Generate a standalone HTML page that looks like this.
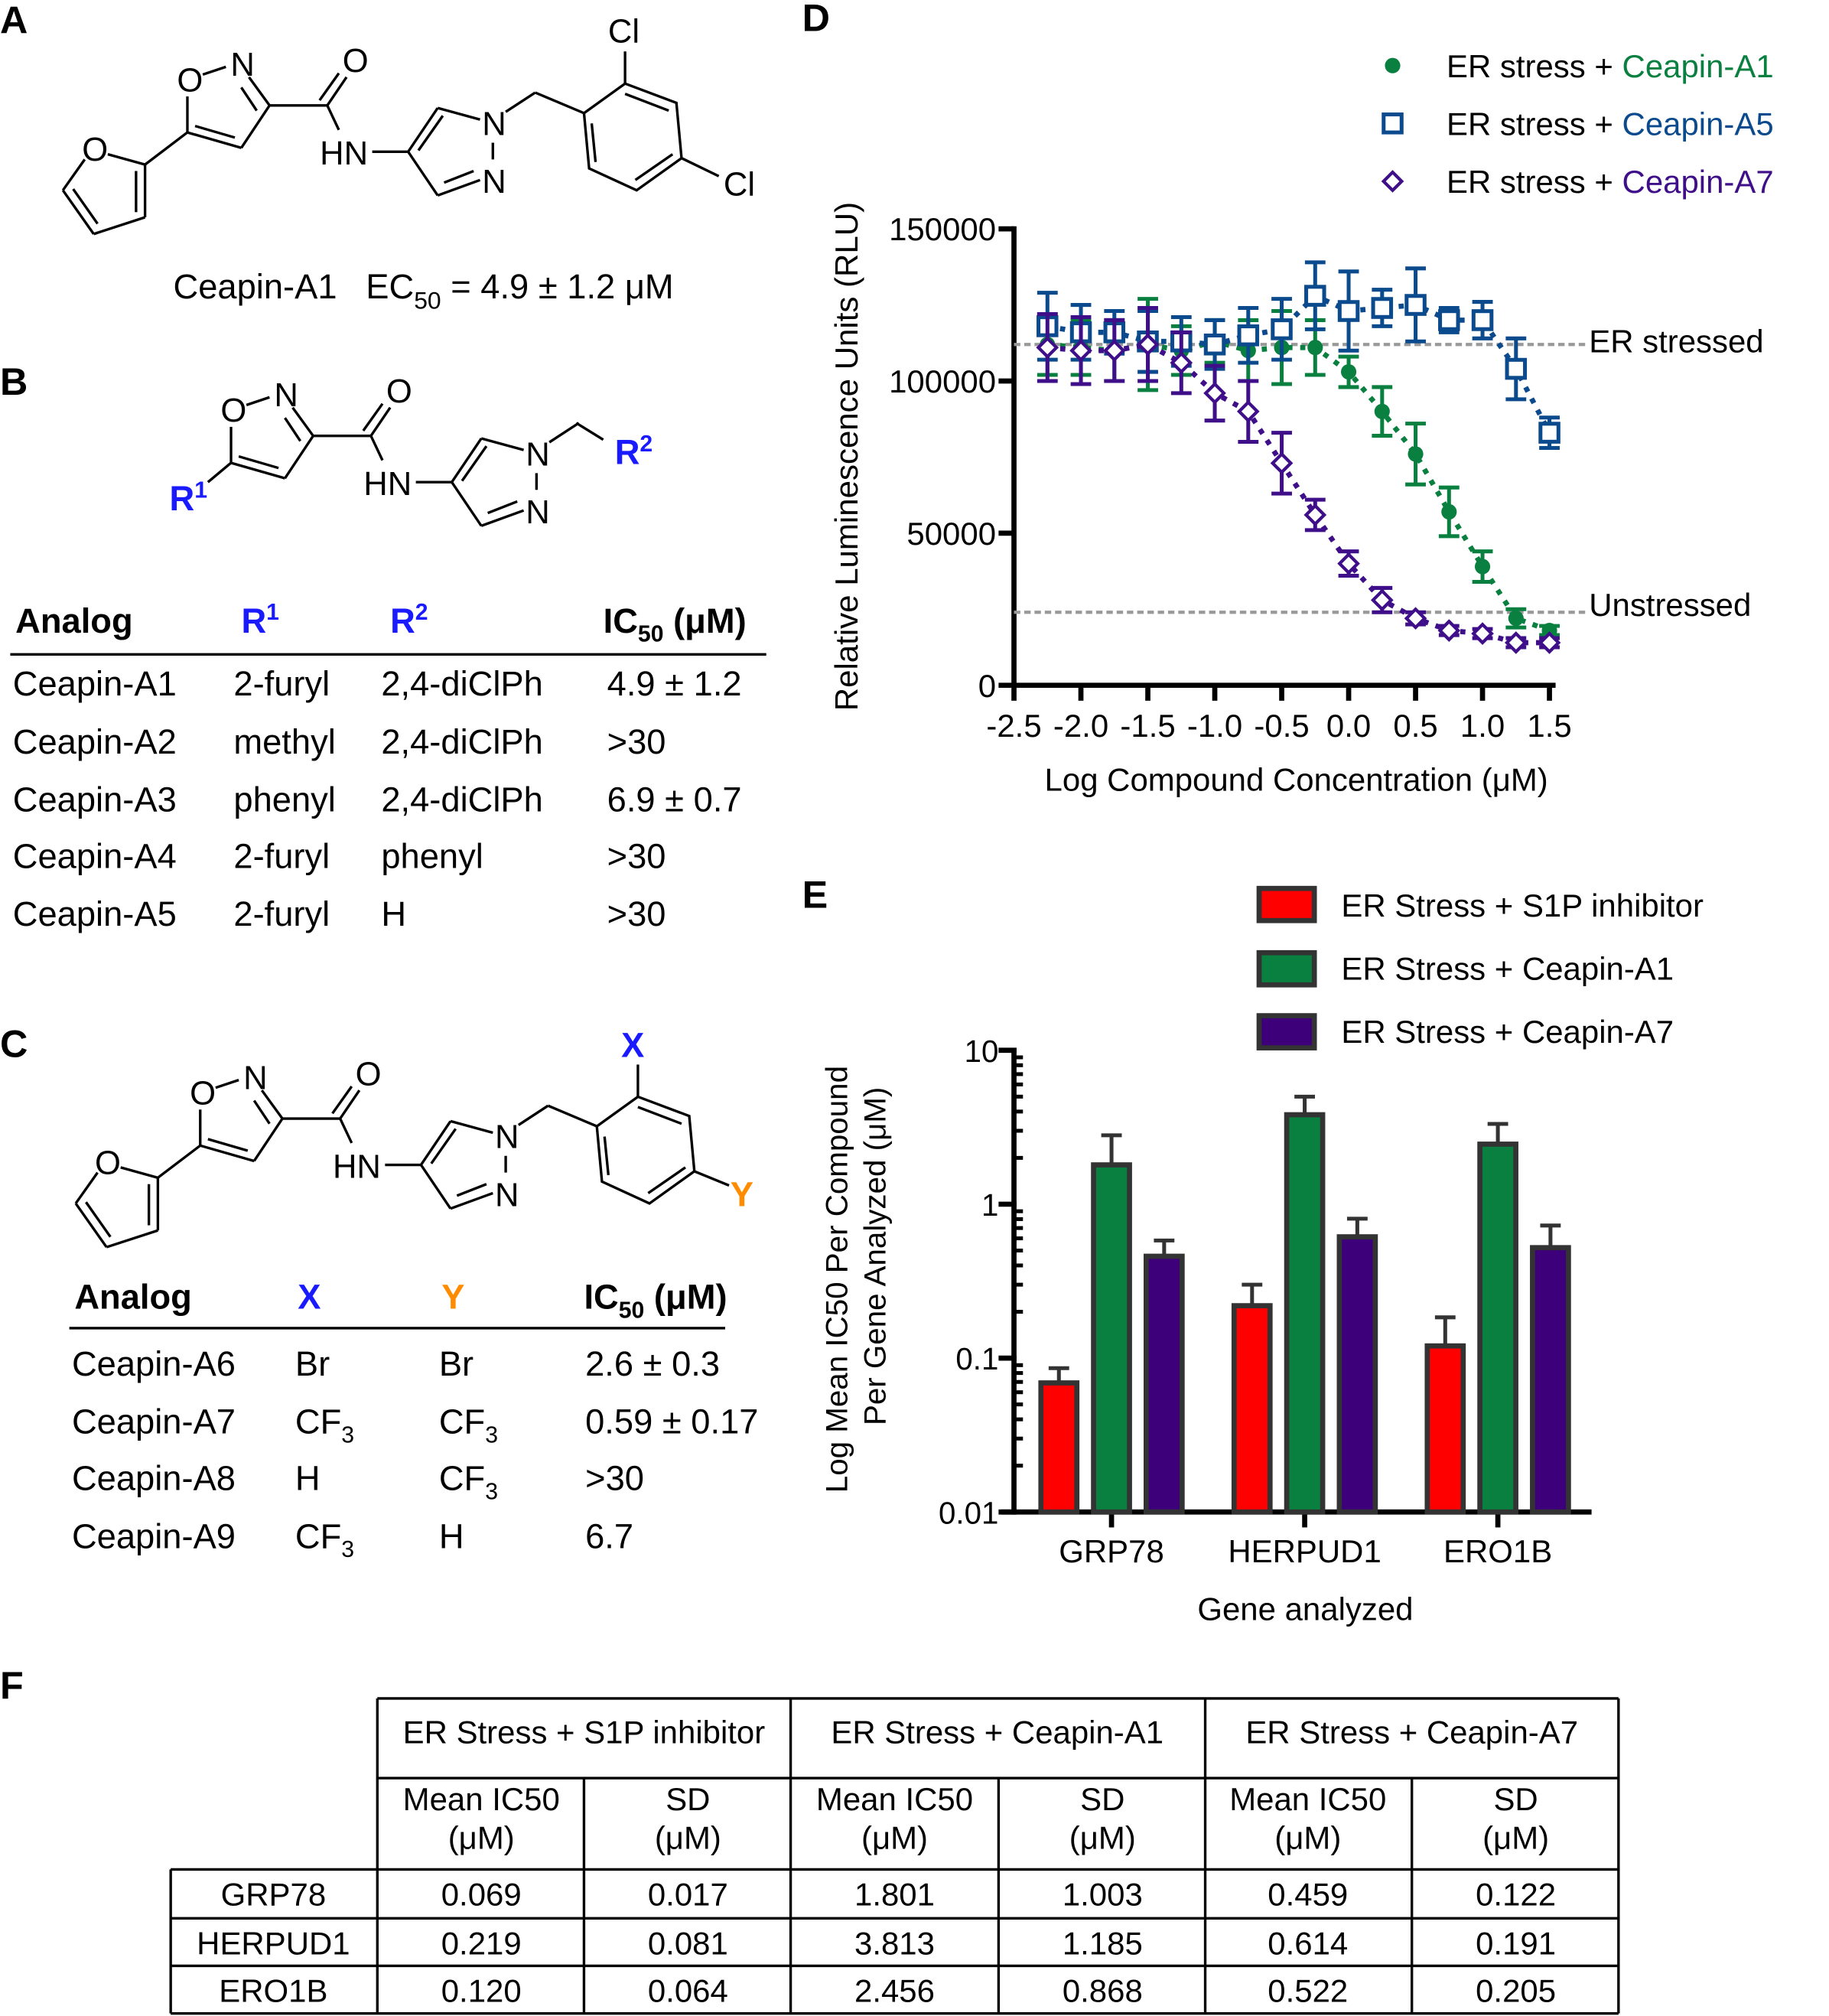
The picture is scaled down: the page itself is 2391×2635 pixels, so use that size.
<!DOCTYPE html>
<html><head><meta charset="utf-8"><style>
html,body{margin:0;padding:0;background:#fff}
svg{display:block}
text{font-family:"Liberation Sans",Arial,sans-serif}
</style></head><body>
<svg id="fig" width="2391" height="2635" viewBox="0 0 1425 1568" preserveAspectRatio="none" xmlns="http://www.w3.org/2000/svg">
<rect width="1425" height="1568" fill="#fff"/>
<defs>
<g id="core" stroke="#000" stroke-width="2" fill="none">
  <!-- isoxazole -->
  <line x1="146" y1="103" x2="146" y2="75"/>
  <line x1="158" y1="58" x2="176" y2="52"/>
  <line x1="194" y1="60" x2="210" y2="82"/>
  <line x1="188" y1="68" x2="200" y2="86"/>
  <line x1="210" y1="82" x2="188" y2="115"/>
  <line x1="188" y1="115" x2="146" y2="103"/>
  <line x1="183" y1="107" x2="152" y2="98"/>
  <!-- carbonyl -->
  <line x1="210" y1="82" x2="255" y2="82"/>
  <line x1="255" y1="82" x2="270" y2="60"/>
  <line x1="249" y1="78" x2="264" y2="57"/>
  <line x1="255" y1="82" x2="264" y2="101"/>
  <line x1="290" y1="118" x2="318" y2="118"/>
  <!-- pyrazole -->
  <line x1="318" y1="118" x2="341" y2="84"/>
  <line x1="326" y1="117" x2="345" y2="90"/>
  <line x1="341" y1="84" x2="374" y2="93"/>
  <line x1="384" y1="111" x2="384" y2="124"/>
  <line x1="374" y1="140" x2="341" y2="152"/>
  <line x1="369" y1="133" x2="346" y2="142"/>
  <line x1="341" y1="152" x2="318" y2="118"/>
  <line x1="394" y1="87" x2="417" y2="72"/>
</g>
</defs>

<!-- Panel A -->
<g>
<text x="0" y="26" font-size="30" font-weight="bold">A</text>
<use href="#core"/>
<g stroke="#000" stroke-width="2" fill="none">
  <line x1="84" y1="120" x2="113" y2="128"/><line x1="113" y1="128" x2="113" y2="169"/><line x1="106" y1="133" x2="106" y2="165"/>
  <line x1="113" y1="169" x2="73" y2="182"/><line x1="73" y1="182" x2="49" y2="148"/><line x1="76" y1="174" x2="57" y2="147"/>
  <line x1="49" y1="148" x2="66" y2="124"/><line x1="113" y1="128" x2="146" y2="103"/>
  <line x1="417" y1="72" x2="455" y2="88"/>
  <polyline points="455,88 487,65 527,80 531,123 496,148 459,131 455,88"/>
  <line x1="487" y1="73" x2="521" y2="86"/><line x1="524" y1="120" x2="495" y2="140"/><line x1="461" y1="96" x2="464" y2="126"/>
  <line x1="487" y1="65" x2="487" y2="40"/><line x1="531" y1="123" x2="560" y2="137"/>
</g>
<g font-size="26" text-anchor="middle">
<text x="74" y="125">O</text><text x="148" y="71">O</text><text x="189" y="59">N</text><text x="277" y="56">O</text>
<text x="268" y="128">HN</text><text x="385" y="105">N</text><text x="385" y="150">N</text>
<text x="486" y="33">Cl</text><text x="576" y="152">Cl</text>
</g>
<text x="135" y="232" font-size="27">Ceapin-A1 &#160; EC<tspan font-size="19" dy="8">50</tspan><tspan dy="-8"> = 4.9 ± 1.2 μM</tspan></text>
</g>

<!-- Panel B -->
<g>
<text x="0" y="307" font-size="30" font-weight="bold">B</text>
<use href="#core" transform="translate(34,257)"/>
<g stroke="#000" stroke-width="2"><line x1="449" y1="329" x2="470" y2="342"/><line x1="180" y1="360" x2="162" y2="375"/></g>
<g font-size="26" text-anchor="middle">
<text x="182" y="328">O</text><text x="223" y="316">N</text><text x="311" y="313">O</text>
<text x="302" y="385">HN</text><text x="419" y="362">N</text><text x="419" y="407">N</text>
</g>
<text x="132" y="397" font-size="27" font-weight="bold" fill="#1a1aff">R<tspan font-size="18" dy="-10">1</tspan></text>
<text x="479" y="361" font-size="27" font-weight="bold" fill="#1a1aff">R<tspan font-size="18" dy="-10">2</tspan></text>
<g font-size="27">
<text x="12" y="492" font-weight="bold">Analog</text>
<text x="188" y="492" font-weight="bold" fill="#1a1aff">R<tspan font-size="18" dy="-10">1</tspan></text>
<text x="304" y="492" font-weight="bold" fill="#1a1aff">R<tspan font-size="18" dy="-10">2</tspan></text>
<text x="470" y="492" font-weight="bold">IC<tspan font-size="18" dy="7">50</tspan><tspan dy="-7"> (μM)</tspan></text>
<line x1="8" y1="509" x2="597" y2="509" stroke="#000" stroke-width="2"/>
<text x="10" y="541">Ceapin-A1</text><text x="182" y="541">2-furyl</text><text x="297" y="541">2,4-diClPh</text><text x="473" y="541">4.9 ± 1.2</text>
<text x="10" y="586">Ceapin-A2</text><text x="182" y="586">methyl</text><text x="297" y="586">2,4-diClPh</text><text x="473" y="586">&gt;30</text>
<text x="10" y="631">Ceapin-A3</text><text x="182" y="631">phenyl</text><text x="297" y="631">2,4-diClPh</text><text x="473" y="631">6.9 ± 0.7</text>
<text x="10" y="675">Ceapin-A4</text><text x="182" y="675">2-furyl</text><text x="297" y="675">phenyl</text><text x="473" y="675">&gt;30</text>
<text x="10" y="720">Ceapin-A5</text><text x="182" y="720">2-furyl</text><text x="297" y="720">H</text><text x="473" y="720">&gt;30</text>
</g>
</g>

<!-- Panel C -->
<g>
<text x="0" y="822" font-size="30" font-weight="bold">C</text>
<g transform="translate(10,788)">
<use href="#core"/>
<g stroke="#000" stroke-width="2" fill="none">
  <line x1="84" y1="120" x2="113" y2="128"/><line x1="113" y1="128" x2="113" y2="169"/><line x1="106" y1="133" x2="106" y2="165"/>
  <line x1="113" y1="169" x2="73" y2="182"/><line x1="73" y1="182" x2="49" y2="148"/><line x1="76" y1="174" x2="57" y2="147"/>
  <line x1="49" y1="148" x2="66" y2="124"/><line x1="113" y1="128" x2="146" y2="103"/>
  <line x1="417" y1="72" x2="455" y2="88"/>
  <polyline points="455,88 487,65 527,80 531,123 496,148 459,131 455,88"/>
  <line x1="487" y1="73" x2="521" y2="86"/><line x1="524" y1="120" x2="495" y2="140"/><line x1="461" y1="96" x2="464" y2="126"/>
  <line x1="487" y1="65" x2="487" y2="40"/><line x1="531" y1="123" x2="558" y2="134"/>
</g>
<g font-size="26" text-anchor="middle">
<text x="74" y="125">O</text><text x="148" y="71">O</text><text x="189" y="59">N</text><text x="277" y="56">O</text>
<text x="268" y="128">HN</text><text x="385" y="105">N</text><text x="385" y="150">N</text>
</g>
</g>
<text x="493" y="822" font-size="27" font-weight="bold" fill="#1a1aff" text-anchor="middle">X</text>
<text x="578" y="938" font-size="27" font-weight="bold" fill="#ff8c00" text-anchor="middle">Y</text>
<g font-size="27">
<text x="58" y="1018" font-weight="bold">Analog</text>
<text x="232" y="1018" font-weight="bold" fill="#1a1aff">X</text>
<text x="344" y="1018" font-weight="bold" fill="#ff8c00">Y</text>
<text x="455" y="1018" font-weight="bold">IC<tspan font-size="18" dy="7">50</tspan><tspan dy="-7"> (μM)</tspan></text>
<line x1="54" y1="1033" x2="565" y2="1033" stroke="#000" stroke-width="2"/>
<text x="56" y="1070">Ceapin-A6</text><text x="230" y="1070">Br</text><text x="342" y="1070">Br</text><text x="456" y="1070">2.6 ± 0.3</text>
<text x="56" y="1115">Ceapin-A7</text><text x="230" y="1115">CF<tspan font-size="18" dy="7">3</tspan></text><text x="342" y="1115">CF<tspan font-size="18" dy="7">3</tspan></text><text x="456" y="1115">0.59 ± 0.17</text>
<text x="56" y="1159">Ceapin-A8</text><text x="230" y="1159">H</text><text x="342" y="1159">CF<tspan font-size="18" dy="7">3</tspan></text><text x="456" y="1159">&gt;30</text>
<text x="56" y="1204">Ceapin-A9</text><text x="230" y="1204">CF<tspan font-size="18" dy="7">3</tspan></text><text x="342" y="1204">H</text><text x="456" y="1204">6.7</text>
</g>
</g>

<!-- Panel D -->
<g id="panelD">
<text x="625" y="24" font-size="30" font-weight="bold">D</text>
<text x="668" y="355" font-size="25" text-anchor="middle" transform="rotate(-90 668 355)">Relative Luminescence Units (RLU)</text>
<text x="1010" y="615" font-size="25" text-anchor="middle">Log Compound Concentration (μM)</text>
<text x="1238" y="274" font-size="25">ER stressed</text>
<text x="1238" y="479" font-size="25">Unstressed</text>
<g font-size="25">
<circle cx="1085" cy="51" r="6" fill="#0a8040"/>
<text x="1127" y="60">ER stress + <tspan fill="#0a8040">Ceapin-A1</tspan></text>
<rect x="1078" y="89" width="14" height="14" fill="none" stroke="#0b4a8c" stroke-width="3"/>
<text x="1127" y="105">ER stress + <tspan fill="#0b4a8c">Ceapin-A5</tspan></text>
<rect x="1080" y="136" width="10" height="10" fill="none" stroke="#3f0f8a" stroke-width="2.5" transform="rotate(45 1085 141)"/>
<text x="1127" y="150">ER stress + <tspan fill="#3f0f8a">Ceapin-A7</tspan></text>
</g>
</g>

<!-- Panel E -->
<g id="panelE">
<text x="625" y="706" font-size="30" font-weight="bold">E</text>
<text x="660" y="995" font-size="24" text-anchor="middle" transform="rotate(-90 660 995)">Log Mean IC50 Per Compound</text>
<text x="690" y="977" font-size="24" text-anchor="middle" transform="rotate(-90 690 977)">Per Gene Analyzed (μM)</text>
<text x="1017" y="1260" font-size="25" text-anchor="middle">Gene analyzed</text>
<g font-size="25">
<rect x="981" y="691" width="43" height="25" fill="#ff0000" stroke="#333" stroke-width="4"/>
<text x="1045" y="713">ER Stress + S1P inhibitor</text>
<rect x="981" y="741" width="43" height="25" fill="#0a8040" stroke="#333" stroke-width="4"/>
<text x="1045" y="762">ER Stress + Ceapin-A1</text>
<rect x="981" y="790" width="43" height="25" fill="#3d007a" stroke="#333" stroke-width="4"/>
<text x="1045" y="811">ER Stress + Ceapin-A7</text>
</g>
</g>

<!-- Panel F -->
<g>
<text x="0" y="1321" font-size="30" font-weight="bold">F</text>
<g stroke="#000" stroke-width="2" fill="none">
<line x1="294" y1="1321" x2="1261" y2="1321"/>
<line x1="294" y1="1383" x2="1261" y2="1383"/>
<line x1="133" y1="1454" x2="1261" y2="1454"/>
<line x1="133" y1="1492" x2="1261" y2="1492"/>
<line x1="133" y1="1529" x2="1261" y2="1529"/>
<line x1="133" y1="1566" x2="1261" y2="1566"/>
<line x1="133" y1="1454" x2="133" y2="1566"/>
<line x1="294" y1="1321" x2="294" y2="1566"/>
<line x1="616" y1="1321" x2="616" y2="1566"/>
<line x1="939" y1="1321" x2="939" y2="1566"/>
<line x1="1261" y1="1321" x2="1261" y2="1566"/>
<line x1="455" y1="1383" x2="455" y2="1566"/>
<line x1="778" y1="1383" x2="778" y2="1566"/>
<line x1="1100" y1="1383" x2="1100" y2="1566"/>
</g>
<g font-size="25" text-anchor="middle">
<text x="455" y="1356">ER Stress + S1P inhibitor</text>
<text x="777" y="1356">ER Stress + Ceapin-A1</text>
<text x="1100" y="1356">ER Stress + Ceapin-A7</text>
<text x="375" y="1408">Mean IC50</text><text x="375" y="1438">(μM)</text>
<text x="536" y="1408">SD</text><text x="536" y="1438">(μM)</text>
<text x="697" y="1408">Mean IC50</text><text x="697" y="1438">(μM)</text>
<text x="859" y="1408">SD</text><text x="859" y="1438">(μM)</text>
<text x="1019" y="1408">Mean IC50</text><text x="1019" y="1438">(μM)</text>
<text x="1181" y="1408">SD</text><text x="1181" y="1438">(μM)</text>
<text x="213" y="1482">GRP78</text><text x="375" y="1482">0.069</text><text x="536" y="1482">0.017</text><text x="697" y="1482">1.801</text><text x="859" y="1482">1.003</text><text x="1019" y="1482">0.459</text><text x="1181" y="1482">0.122</text>
<text x="213" y="1520">HERPUD1</text><text x="375" y="1520">0.219</text><text x="536" y="1520">0.081</text><text x="697" y="1520">3.813</text><text x="859" y="1520">1.185</text><text x="1019" y="1520">0.614</text><text x="1181" y="1520">0.191</text>
<text x="213" y="1557">ERO1B</text><text x="375" y="1557">0.120</text><text x="536" y="1557">0.064</text><text x="697" y="1557">2.456</text><text x="859" y="1557">0.868</text><text x="1019" y="1557">0.522</text><text x="1181" y="1557">0.205</text>
</g>
</g>
</svg>
<script>
const doseX = [-2.25,-2.0,-1.75,-1.5,-1.25,-1.0,-0.75,-0.5,-0.25,0.0,0.25,0.5,0.75,1.0,1.25,1.5];
const a1Values = [112000,111000,110000,112000,110000,113000,110000,111000,111000,103000,90000,76000,57000,39000,22000,18000];
const a1Errors = [10000,9000,10000,15000,8000,7000,10000,12000,9000,5000,8000,10000,8000,5000,3000,1500];
const a5Values = [118000,116000,116000,113000,113000,112000,115000,117000,128000,123000,124000,125000,120000,120000,104000,83000];
const a5Errors = [11000,9000,7000,10000,8000,8000,9000,10000,11000,13000,6000,12000,4000,6000,10000,5000];
const a7Values = [111000,110000,110000,112000,106000,96000,90000,73000,56000,40000,28000,22000,18000,17000,14000,14000];
const a7Errors = [11000,11000,10000,12000,10000,9000,10000,10000,5000,4000,4000,2000,1500,1500,1500,1500];
const dYTicks = [0,50000,100000,150000];
const dXTicks = [-2.5,-2.0,-1.5,-1.0,-0.5,0.0,0.5,1.0,1.5];
const erStressedLevel = 112000;
const unstressedLevel = 24000;

const genes = ["GRP78","HERPUD1","ERO1B"];
const s1pMeans = [0.069,0.219,0.120];
const s1pSD = [0.017,0.081,0.064];
const a1Means = [1.801,3.813,2.456];
const a1SD = [1.003,1.185,0.868];
const a7Means = [0.459,0.614,0.522];
const a7SD = [0.122,0.191,0.205];
const eYTicks = [0.01,0.1,1,10];

const NS = "http://www.w3.org/2000/svg";
function mk(tag, attrs, parent){const e=document.createElementNS(NS,tag);for(const k in attrs)e.setAttribute(k,attrs[k]);parent.appendChild(e);return e;}

// Panel D
const gD = document.getElementById('panelD');
const xD = v => 790 + (v + 2.5) * 104.3;
const yD = v => 533 - v * (355 / 150000);
let el;
el = mk('line',{x1:790,y1:176,x2:790,y2:535,stroke:'#000','stroke-width':4},gD);


el = mk('line',{x1:788,y1:533,x2:1212,y2:533,stroke:'#000','stroke-width':4},gD);


dYTicks.forEach(t=>{
  mk('line',{x1:778,y1:yD(t),x2:790,y2:yD(t),stroke:'#000','stroke-width':4},gD);
  el = mk('text',{x:776,y:yD(t)+9,'font-size':25,'text-anchor':'end'},gD);
  el.textContent = t;
  
  
});
dXTicks.forEach(t=>{
  mk('line',{x1:xD(t),y1:533,x2:xD(t),y2:545,stroke:'#000','stroke-width':4},gD);
  el = mk('text',{x:xD(t),y:573,'font-size':25,'text-anchor':'middle'},gD);
  el.textContent = t.toFixed(1);
  
  
});
[[erStressedLevel,'er-stressed-line'],[unstressedLevel,'unstressed-line']].forEach(([v,n])=>{
  el = mk('line',{x1:790,y1:yD(v),x2:1235,y2:yD(v),stroke:'#999','stroke-width':2.5,'stroke-dasharray':'5 3'},gD);
  
  
});
function series(vals, errs, color, kind, name){
  const g = mk('g',{},gD);
  
  
  const pts = doseX.map((x,i)=>xD(x)+','+yD(vals[i])).join(' ');
  el = mk('polyline',{points:pts,fill:'none',stroke:color,'stroke-width':4,'stroke-dasharray':'4 6'},g);
  
  
  doseX.forEach((x,i)=>{
    const cx=xD(x), cy=yD(vals[i]), t=yD(vals[i]+errs[i]), b=yD(vals[i]-errs[i]);
    mk('line',{x1:cx,y1:t,x2:cx,y2:b,stroke:color,'stroke-width':3},g);
    mk('line',{x1:cx-8,y1:t,x2:cx+8,y2:t,stroke:color,'stroke-width':3},g);
    mk('line',{x1:cx-8,y1:b,x2:cx+8,y2:b,stroke:color,'stroke-width':3},g);
    if(kind==='circle') el = mk('circle',{cx:cx,cy:cy,r:6,fill:color},g);
    else if(kind==='square') el = mk('rect',{x:cx-7,y:cy-7,width:14,height:14,fill:'#fff',stroke:color,'stroke-width':3},g);
    else el = mk('rect',{x:cx-5,y:cy-5,width:10,height:10,fill:'#fff',stroke:color,'stroke-width':2.5,transform:`rotate(45 ${cx} ${cy})`},g);
    
    
  });
}
series(a1Values,a1Errors,'#0a8040','circle','series-ceapin-a1');
series(a5Values,a5Errors,'#0b4a8c','square','series-ceapin-a5');
series(a7Values,a7Errors,'#3f0f8a','diamond','series-ceapin-a7');

// Panel E
const gE = document.getElementById('panelE');
const yE = v => 1176 - (Math.log10(v) + 2) * 119.7;
const groupX = i => 866 + i * 150.5;
el = mk('line',{x1:790,y1:815,x2:790,y2:1178,stroke:'#000','stroke-width':4},gE);


el = mk('line',{x1:780,y1:1176,x2:1240,y2:1176,stroke:'#000','stroke-width':4},gE);


eYTicks.forEach((t,k)=>{
  mk('line',{x1:778,y1:yE(t),x2:792,y2:yE(t),stroke:'#000','stroke-width':4},gE);
  el = mk('text',{x:778,y:yE(t)+9,'font-size':24,'text-anchor':'end'},gE);
  el.textContent = t;
  
  
  if(k<eYTicks.length-1) for(let m=2;m<10;m++) mk('line',{x1:790,y1:yE(t*m),x2:797,y2:yE(t*m),stroke:'#000','stroke-width':3},gE);
});
genes.forEach((gname,i)=>{
  mk('line',{x1:groupX(i),y1:1176,x2:groupX(i),y2:1188,stroke:'#000','stroke-width':4},gE);
  el = mk('text',{x:groupX(i),y:1215,'font-size':25,'text-anchor':'middle'},gE);
  el.textContent = gname;
  
  
  [[s1pMeans,s1pSD,'#ff0000',-41,'bar-s1p-'],[a1Means,a1SD,'#0a8040',0,'bar-ceapin-a1-'],[a7Means,a7SD,'#3d007a',41,'bar-ceapin-a7-']].forEach(([m,s,c,off,n])=>{
    const cx = groupX(i)+off, top = yE(m[i]), et = yE(m[i]+s[i]);
    mk('line',{x1:cx,y1:et,x2:cx,y2:top,stroke:'#333','stroke-width':3},gE);
    mk('line',{x1:cx-8,y1:et,x2:cx+8,y2:et,stroke:'#333','stroke-width':3},gE);
    el = mk('rect',{x:cx-14,y:top,width:28,height:1176-top,fill:c,stroke:'#333','stroke-width':4},gE);
    
    
  });
});
</script>
</body></html>
